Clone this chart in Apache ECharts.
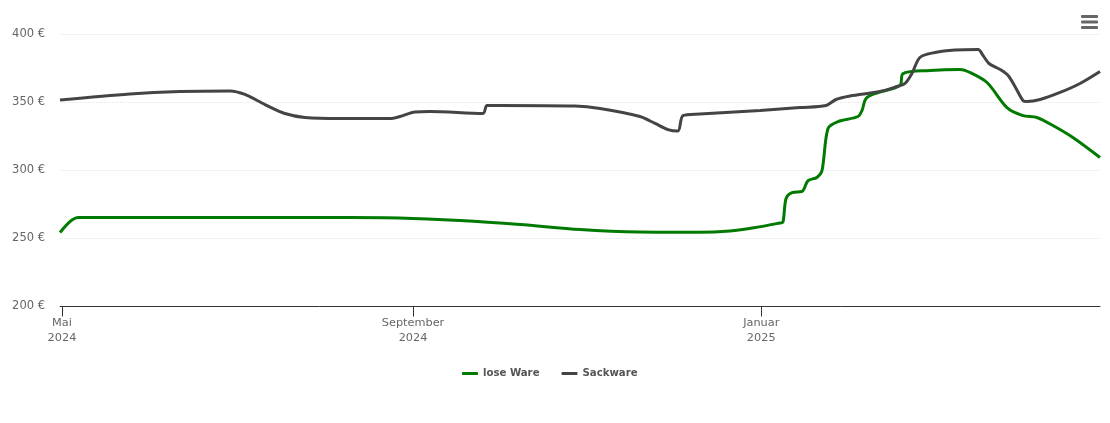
<!DOCTYPE html>
<html>
<head>
<meta charset="utf-8">
<title>Chart</title>
<script src="https://cdn.jsdelivr.net/npm/echarts@6/dist/echarts.min.js"></script>
<style>
html, body { margin: 0; padding: 0; background: #fff; }
#main { width: 1110px; height: 423px; }
</style>
</head>
<body>
<div id="main"></div>
<script>
// x values are days after 1 May 2024
var looseDays = [-0.7, 1.4, 3.5, 5.6, 8, 48, 101, 118, 139.5, 160.5, 181.5, 202.5, 223.5, 234, 243, 251.5, 252.6, 253.7, 255.8, 259.3, 261.4, 264.5, 266.3, 268.4, 271.9, 278.9, 280.3, 281.7, 284.9, 293.6, 294.7, 304.1, 314.6, 317.4, 324.1, 331.1, 336.7, 341.6, 347.2, 354.2, 363.7];
var looseValues = [254.4, 259.6, 263.6, 265.4, 265.4, 265.4, 265.4, 265.1, 263.2, 260.3, 256.6, 254.8, 254.6, 255.6, 258.1, 261.4, 262, 279.4, 283.8, 284.6, 292.6, 294.9, 300, 330.9, 336, 339.7, 344.1, 352.9, 356.6, 362.5, 371.3, 373.5, 374.3, 372.8, 364.7, 346.3, 340.4, 339, 333.1, 324.3, 309.6];
var sackDays = [-0.7, 23.8, 41.3, 58.9, 64.1, 71.1, 78.1, 85.1, 97.4, 114.9, 118.4, 123.7, 128.9, 147.5, 148.9, 153.5, 179.7, 188.5, 202.5, 207.8, 212.3, 215.8, 217.6, 223.5, 244.6, 258.6, 267.7, 271.2, 276.1, 286.6, 292.6, 295.4, 297.8, 300.6, 305.9, 312.9, 321, 322.7, 324.8, 328.7, 331.5, 333.9, 336.7, 338.1, 342.7, 349.7, 356.7, 363.7];
var sackValues = [351.8, 356.3, 358.1, 358.5, 355.9, 348.5, 341.9, 339, 338.2, 338.2, 339.7, 343, 343.4, 341.9, 347.8, 347.8, 347.4, 345.6, 339.7, 334.6, 330.1, 329, 340.4, 341.5, 344.1, 346.3, 347.8, 352.2, 354.8, 358.1, 361.8, 364, 371.3, 383.1, 386.8, 388.6, 389, 384.6, 378.7, 374.3, 369.9, 361.8, 351.5, 350.7, 352.2, 357.4, 364, 372.8];
var tickDays = [0, 123, 245];
var tickLabels = ['Mai\n2024', 'September\n2024', 'Januar\n2025'];

function pairs(days, values) {
    return days.map(function (d, i) { return [d, values[i]]; });
}

var chart = echarts.init(document.getElementById('main'), null, { renderer: 'canvas' });
chart.setOption({
    animation: false,
    textStyle: { fontFamily: 'DejaVu Sans' },
    grid: { left: 60, right: 10, top: 34.5, height: 272 },
    legend: {
        left: 457,
        top: 363,
        itemWidth: 16,
        itemHeight: 3,
        itemGap: 22,
        icon: 'roundRect',
        textStyle: { color: '#555', fontFamily: 'DejaVu Sans Condensed', fontSize: 11.3, fontWeight: 'bold' },
        data: ['lose Ware', 'Sackware']
    },
    xAxis: {
        type: 'value',
        min: -0.7,
        max: 363.7,
        splitLine: { show: false },
        axisLine: { lineStyle: { color: '#333', width: 1 } },
        axisTick: { length: 10, customValues: tickDays, lineStyle: { color: '#333', width: 1 } },
        axisLabel: {
            customValues: tickDays,
            color: '#666',
            fontSize: 11.3,
            lineHeight: 15,
            margin: 9,
            formatter: function (v) { return tickLabels[tickDays.indexOf(v)]; }
        }
    },
    yAxis: {
        type: 'value',
        min: 200,
        max: 400,
        interval: 50,
        axisLine: { show: false },
        axisTick: { show: false },
        axisLabel: { color: '#666', fontSize: 11.5, margin: 15, formatter: '{value} €' },
        splitLine: { lineStyle: { color: '#e6e6e6', type: 'dotted', width: 1 } }
    },
    series: [
        {
            name: 'lose Ware',
            type: 'line',
            data: pairs(looseDays, looseValues),
            showSymbol: false,
            smooth: 0.3,
            lineStyle: { color: '#007a00', width: 3 },
            itemStyle: { color: '#007a00' }
        },
        {
            name: 'Sackware',
            type: 'line',
            data: pairs(sackDays, sackValues),
            showSymbol: false,
            smooth: 0.3,
            lineStyle: { color: '#444', width: 3 },
            itemStyle: { color: '#444' }
        }
    ],
    // menu button top right
    graphic: [
        { type: 'rect', left: 1081, top: 15, shape: { width: 17, height: 3, r: 1 }, style: { fill: '#666' } },
        { type: 'rect', left: 1081, top: 20.5, shape: { width: 17, height: 3, r: 1 }, style: { fill: '#666' } },
        { type: 'rect', left: 1081, top: 26, shape: { width: 17, height: 3, r: 1 }, style: { fill: '#666' } }
    ]
});
</script>
</body>
</html>
